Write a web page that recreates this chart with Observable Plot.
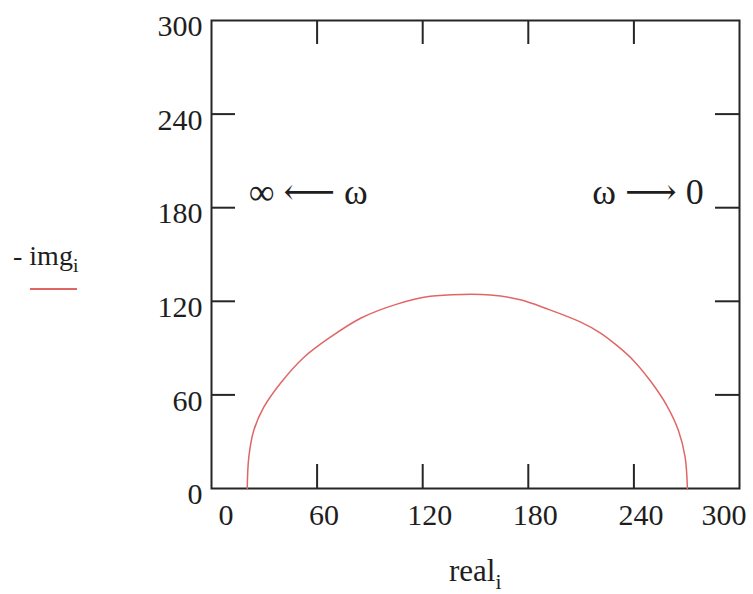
<!DOCTYPE html>
<html>
<head>
<meta charset="utf-8">
<script src="https://cdn.jsdelivr.net/npm/d3@7"></script>
<script src="https://cdn.jsdelivr.net/npm/@observablehq/plot@0.6"></script>
<style>
  html, body { margin: 0; padding: 0; background: #fff; }
  #wrap { position: relative; width: 753px; height: 594px; font-family: "Liberation Serif", "DejaVu Serif", serif; color: #1e1e1e; }
  #wrap svg { position: absolute; left: 0; top: 0; }
  .lbl { position: absolute; white-space: nowrap; line-height: 1; }
  .lbl sub { font-size: 0.7em; vertical-align: -0.38em; line-height: 1; }
</style>
</head>
<body>
<div id="wrap"></div>
<script>
// Impedance locus: real part vs. negative imaginary part
const realValues = [20.3, 21.2, 24.0, 29.7, 39.2, 52.4, 67.5, 85.0, 105.4, 124.3, 143.2, 158.4,
                    175.4, 190.6, 209.5, 220.8, 230.3, 239.7, 249.2, 258.7, 265.3, 269.1, 270.4];
const imgValues  = [0, 20.1, 37.2, 52.1, 67.5, 84.0, 97.0, 109.3, 118.2, 123.2, 124.4, 124.0,
                    121.0, 115.2, 106.8, 99.8, 91.7, 82.1, 69.2, 53.2, 37.2, 20.1, 0];

const xTickValues = [0, 60, 120, 180, 240, 300];
const yTickValues = [0, 60, 120, 180, 240, 300];
const xTickLabels = ["0", "60", "120", "180", "240", "300"];
const yTickLabels = ["0", "60", "120", "180", "240", "300"];

const annotationText = ["\u221E \u27F5 \u03C9", "\u03C9 \u27F6 0"];
const annotationX = [55, 248];
const annotationY = [190, 190];

const curve = realValues.map((r, i) => ({real: r, img: imgValues[i]}));
const xTicks = xTickValues.map((v, i) => ({v, label: xTickLabels[i]}));
const yTicks = yTickValues.map((v, i) => ({v, label: yTickLabels[i]}));
const notes = annotationText.map((t, i) => ({text: t, x: annotationX[i], y: annotationY[i]}));

const W = 753, H = 594;
const mL = 211, mR = 14, mT = 20, mB = 106;
const frameH = H - mT - mB;
const tickLen = 24;
const ink = "#262626";
const textInk = "#1e1e1e";
const font = "Liberation Serif, DejaVu Serif, serif";
const inner = xTicks.filter(d => d.v > 0 && d.v < 300);
const innerY = yTicks.filter(d => d.v > 0 && d.v < 300);

const chart = Plot.plot({
  width: W,
  height: H,
  marginLeft: mL,
  marginRight: mR,
  marginTop: mT,
  marginBottom: mB,
  x: {domain: [0, 300], axis: null},
  y: {domain: [0, 300], axis: null},
  style: {fontFamily: font, background: "transparent", overflow: "visible"},
  marks: [
    // inward ticks on all four sides
    Plot.tickX(inner, {x: "v", insetTop: frameH - tickLen, stroke: ink, strokeWidth: 2}),
    Plot.tickX(inner, {x: "v", insetBottom: frameH - tickLen, stroke: ink, strokeWidth: 2}),
    Plot.tickY(innerY, {y: "v", insetRight: (W - mL - mR) - tickLen, stroke: ink, strokeWidth: 2}),
    Plot.tickY(innerY, {y: "v", insetLeft: (W - mL - mR) - tickLen, stroke: ink, strokeWidth: 2}),
    Plot.frame({stroke: ink, strokeWidth: 2}),
    // tick labels
    Plot.text(xTicks.filter(d => d.v === 0), {x: "v", text: "label", frameAnchor: "bottom", dy: 36, dx: 7, textAnchor: "start", fontSize: 30, fill: textInk}),
    Plot.text(inner, {x: "v", text: "label", frameAnchor: "bottom", dy: 36, dx: 7, textAnchor: "middle", fontSize: 30, fill: textInk}),
    Plot.text(xTicks.filter(d => d.v === 300), {x: "v", text: "label", frameAnchor: "bottom", dy: 36, dx: 7, textAnchor: "end", fontSize: 30, fill: textInk}),
    Plot.text(yTicks, {y: "v", text: "label", frameAnchor: "left", dx: -9, dy: 6, textAnchor: "end", fontSize: 30, fill: textInk}),
    // frequency direction notes
    Plot.text(notes, {x: "x", y: "y", text: "text", fontSize: 36, fill: textInk}),
    // locus
    Plot.line(curve, {x: "real", y: "img", stroke: "#e06666", strokeWidth: 1.5, curve: "catmull-rom"})
  ]
});

const wrap = document.getElementById("wrap");
wrap.appendChild(chart);

// legend and axis title
const legend = document.createElement("div");
legend.className = "lbl";
legend.style.cssText = "left:13px; top:242px; font-size:28px;";
legend.innerHTML = "- img<sub>i</sub>";
wrap.appendChild(legend);

const swatch = document.createElement("div");
swatch.style.cssText = "position:absolute; left:30px; top:288px; width:47px; height:2px; background:#e06666;";
wrap.appendChild(swatch);

const xTitle = document.createElement("div");
xTitle.className = "lbl";
xTitle.style.cssText = "left:449px; top:555px; font-size:31px;";
xTitle.innerHTML = "real<sub>i</sub>";
wrap.appendChild(xTitle);
</script>
</body>
</html>
